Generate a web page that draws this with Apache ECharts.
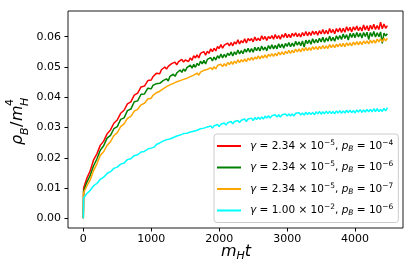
<!DOCTYPE html>
<html>
<head>
<meta charset="utf-8">
<script src="https://cdn.jsdelivr.net/npm/echarts@6/dist/echarts.min.js"></script>
<style>html,body{margin:0;padding:0;background:#fff}#c{width:413px;height:278px}</style>
</head>
<body>
<div id="c"></div>
<script>
const tValues = [0, 5,
  50, 100, 150, 200, 250, 300, 350, 400, 450, 500,
  550, 600, 650, 700, 750, 800, 850, 900, 950, 1000,
  1025, 1050, 1075, 1100, 1125, 1150, 1175, 1200, 1225, 1250, 1275, 1300, 1325, 1350, 1375, 1400, 1425, 1450, 1475, 1500,
  1525, 1550, 1575, 1600, 1625, 1650, 1675, 1700, 1725, 1750, 1775, 1800, 1825, 1850, 1875, 1900, 1925, 1950, 1975, 2000,
  2025, 2050, 2075, 2100, 2125, 2150, 2175, 2200, 2225, 2250, 2275, 2300, 2325, 2350, 2375, 2400, 2425, 2450, 2475, 2500,
  2525, 2550, 2575, 2600, 2625, 2650, 2675, 2700, 2725, 2750, 2775, 2800, 2825, 2850, 2875, 2900, 2925, 2950, 2975, 3000,
  3025, 3050, 3075, 3100, 3125, 3150, 3175, 3200, 3225, 3250, 3275, 3300, 3325, 3350, 3375, 3400, 3425, 3450, 3475, 3500,
  3525, 3550, 3575, 3600, 3625, 3650, 3675, 3700, 3725, 3750, 3775, 3800, 3825, 3850, 3875, 3900, 3925, 3950, 3975, 4000,
  4025, 4050, 4075, 4100, 4125, 4150, 4175, 4200, 4225, 4250, 4275, 4300, 4325, 4350, 4375, 4400, 4425, 4450, 4475];

const rhoRed = [0, 0.0100,
  0.0131, 0.0156, 0.0192, 0.0213, 0.0241, 0.0255, 0.0279, 0.0292, 0.0314, 0.0325,
  0.0347, 0.0357, 0.0378, 0.0385, 0.0407, 0.0414, 0.0434, 0.0437, 0.0455, 0.0457,
  0.0468, 0.0465, 0.0479, 0.0476, 0.0478, 0.0491, 0.0490, 0.0500, 0.0493, 0.0502, 0.0498, 0.0511, 0.0506, 0.0516, 0.0507, 0.0517, 0.0513, 0.0525, 0.0516, 0.0523,
  0.0527, 0.0518, 0.0530, 0.0522, 0.0537, 0.0530, 0.0540, 0.0530, 0.0545, 0.0539, 0.0551, 0.0539, 0.0552, 0.0545, 0.0560, 0.0551, 0.0562, 0.0553, 0.0568, 0.0561,
  0.0574, 0.0562, 0.0572, 0.0566, 0.0579, 0.0570, 0.0581, 0.0570, 0.0583, 0.0576, 0.0590, 0.0576, 0.0587, 0.0580, 0.0593, 0.0579, 0.0594, 0.0587, 0.0594, 0.0583,
  0.0599, 0.0587, 0.0595, 0.0587, 0.0603, 0.0591, 0.0601, 0.0588, 0.0601, 0.0594, 0.0604, 0.0592, 0.0607, 0.0594, 0.0604, 0.0592, 0.0607, 0.0598, 0.0611, 0.0597,
  0.0608, 0.0597, 0.0611, 0.0602, 0.0613, 0.0600, 0.0610, 0.0599, 0.0614, 0.0603, 0.0617, 0.0603, 0.0615, 0.0604, 0.0619, 0.0608, 0.0618, 0.0605, 0.0620, 0.0609,
  0.0624, 0.0609, 0.0621, 0.0609, 0.0627, 0.0613, 0.0624, 0.0610, 0.0627, 0.0616, 0.0629, 0.0614, 0.0628, 0.0615, 0.0633, 0.0619, 0.0631, 0.0616, 0.0633, 0.0622,
  0.0635, 0.0620, 0.0632, 0.0619, 0.0639, 0.0622, 0.0636, 0.0620, 0.0638, 0.0625, 0.0641, 0.0624, 0.0637, 0.0624, 0.0648, 0.0626, 0.0642, 0.0628, 0.0637];

const rhoGreen = [0, 0.0090,
  0.0118, 0.0141, 0.0173, 0.0196, 0.0225, 0.0240, 0.0265, 0.0274, 0.0296, 0.0303,
  0.0327, 0.0332, 0.0356, 0.0361, 0.0385, 0.0388, 0.0410, 0.0411, 0.0430, 0.0428,
  0.0439, 0.0434, 0.0445, 0.0440, 0.0446, 0.0442, 0.0455, 0.0450, 0.0461, 0.0454, 0.0469, 0.0465, 0.0476, 0.0469, 0.0480, 0.0474, 0.0490, 0.0482, 0.0494, 0.0486,
  0.0498, 0.0494, 0.0506, 0.0496, 0.0509, 0.0499, 0.0512, 0.0505, 0.0519, 0.0510, 0.0522, 0.0510, 0.0525, 0.0519, 0.0531, 0.0520, 0.0533, 0.0523, 0.0537, 0.0529,
  0.0543, 0.0530, 0.0542, 0.0532, 0.0546, 0.0538, 0.0550, 0.0536, 0.0550, 0.0541, 0.0556, 0.0543, 0.0554, 0.0544, 0.0559, 0.0549, 0.0562, 0.0549, 0.0561, 0.0549,
  0.0565, 0.0554, 0.0565, 0.0553, 0.0569, 0.0556, 0.0566, 0.0554, 0.0571, 0.0560, 0.0573, 0.0560, 0.0572, 0.0560, 0.0577, 0.0564, 0.0576, 0.0562, 0.0578, 0.0568,
  0.0581, 0.0567, 0.0579, 0.0568, 0.0585, 0.0572, 0.0583, 0.0570, 0.0586, 0.0566, 0.0589, 0.0577, 0.0589, 0.0575, 0.0593, 0.0579, 0.0591, 0.0580, 0.0595, 0.0583,
  0.0598, 0.0582, 0.0596, 0.0585, 0.0602, 0.0586, 0.0598, 0.0585, 0.0603, 0.0591, 0.0604, 0.0591, 0.0609, 0.0594, 0.0607, 0.0589, 0.0611, 0.0598, 0.0611, 0.0597,
  0.0614, 0.0599, 0.0612, 0.0596, 0.0614, 0.0601, 0.0615, 0.0591, 0.0614, 0.0601, 0.0617, 0.0599, 0.0613, 0.0600, 0.0616, 0.0578, 0.0612, 0.0603, 0.0610];

const rhoOrange = [0, 0.0085,
  0.0106, 0.0126, 0.0157, 0.0180, 0.0208, 0.0220, 0.0241, 0.0253, 0.0273, 0.0283,
  0.0303, 0.0312, 0.0330, 0.0337, 0.0354, 0.0360, 0.0375, 0.0380, 0.0394, 0.0397,
  0.0406, 0.0404, 0.0415, 0.0411, 0.0420, 0.0418, 0.0428, 0.0425, 0.0435, 0.0431, 0.0441, 0.0437, 0.0446, 0.0440, 0.0451, 0.0446, 0.0455, 0.0450, 0.0459, 0.0453,
  0.0463, 0.0459, 0.0468, 0.0462, 0.0473, 0.0469, 0.0480, 0.0473, 0.0483, 0.0477, 0.0489, 0.0483, 0.0492, 0.0486, 0.0498, 0.0491, 0.0501, 0.0494, 0.0505, 0.0499,
  0.0509, 0.0501, 0.0511, 0.0503, 0.0515, 0.0508, 0.0518, 0.0509, 0.0519, 0.0512, 0.0524, 0.0514, 0.0524, 0.0517, 0.0527, 0.0518, 0.0529, 0.0522, 0.0532, 0.0523,
  0.0533, 0.0526, 0.0537, 0.0527, 0.0537, 0.0530, 0.0540, 0.0530, 0.0542, 0.0535, 0.0544, 0.0535, 0.0545, 0.0537, 0.0549, 0.0540, 0.0550, 0.0541, 0.0552, 0.0544,
  0.0555, 0.0545, 0.0555, 0.0547, 0.0559, 0.0550, 0.0560, 0.0550, 0.0562, 0.0553, 0.0564, 0.0554, 0.0564, 0.0555, 0.0567, 0.0558, 0.0567, 0.0557, 0.0568, 0.0560,
  0.0571, 0.0561, 0.0570, 0.0561, 0.0574, 0.0564, 0.0574, 0.0564, 0.0575, 0.0567, 0.0577, 0.0567, 0.0578, 0.0567, 0.0580, 0.0571, 0.0580, 0.0570, 0.0582, 0.0573,
  0.0584, 0.0573, 0.0584, 0.0574, 0.0586, 0.0577, 0.0586, 0.0576, 0.0589, 0.0579, 0.0589, 0.0579, 0.0592, 0.0583, 0.0593, 0.0583, 0.0595, 0.0586, 0.0595];

const rhoCyan = [0, 0.0067,
  0.0081, 0.0092, 0.0107, 0.0115, 0.0129, 0.0136, 0.0148, 0.0154, 0.0165, 0.0169,
  0.0179, 0.0183, 0.0194, 0.0197, 0.0207, 0.0210, 0.0219, 0.0221, 0.0229, 0.0232,
  0.0237, 0.0236, 0.0244, 0.0242, 0.0249, 0.0246, 0.0255, 0.0252, 0.0260, 0.0256, 0.0262, 0.0259, 0.0267, 0.0264, 0.0272, 0.0267, 0.0275, 0.0272, 0.0280, 0.0275,
  0.0281, 0.0277, 0.0285, 0.0281, 0.0288, 0.0283, 0.0291, 0.0287, 0.0296, 0.0290, 0.0298, 0.0292, 0.0302, 0.0297, 0.0305, 0.0298, 0.0306, 0.0302, 0.0310, 0.0303,
  0.0311, 0.0306, 0.0315, 0.0308, 0.0316, 0.0311, 0.0320, 0.0312, 0.0320, 0.0315, 0.0323, 0.0316, 0.0324, 0.0319, 0.0328, 0.0320, 0.0328, 0.0323, 0.0331, 0.0323,
  0.0333, 0.0326, 0.0334, 0.0327, 0.0335, 0.0328, 0.0338, 0.0331, 0.0339, 0.0331, 0.0339, 0.0333, 0.0342, 0.0335, 0.0342, 0.0335, 0.0342, 0.0336, 0.0345, 0.0338,
  0.0345, 0.0338, 0.0345, 0.0338, 0.0347, 0.0341, 0.0349, 0.0341, 0.0348, 0.0341, 0.0351, 0.0343, 0.0350, 0.0343, 0.0350, 0.0342, 0.0352, 0.0345, 0.0353, 0.0344,
  0.0352, 0.0345, 0.0354, 0.0346, 0.0354, 0.0346, 0.0353, 0.0345, 0.0355, 0.0348, 0.0356, 0.0347, 0.0355, 0.0348, 0.0357, 0.0349, 0.0357, 0.0349, 0.0356, 0.0348,
  0.0358, 0.0351, 0.0359, 0.0350, 0.0358, 0.0351, 0.0360, 0.0352, 0.0360, 0.0352, 0.0362, 0.0353, 0.0362, 0.0353, 0.0360, 0.0353, 0.0363, 0.0355, 0.0366];

const seriesNames = ['s1', 's2', 's3', 's4'];
const legendLabels = [
  '{i|γ} = 2.34 × 10{sup|−5}, {i|p}{sub|B} = 10{sup|−4}',
  '{i|γ} = 2.34 × 10{sup|−5}, {i|p}{sub|B} = 10{sup|−6}',
  '{i|γ} = 2.34 × 10{sup|−5}, {i|p}{sub|B} = 10{sup|−7}',
  '{i|γ} = 1.00 × 10{sup|−2}, {i|p}{sub|B} = 10{sup|−6}'
];
const seriesColors = ['#ff0000', '#008000', '#ffa500', '#00ffff'];
const xTicks = [0, 1000, 2000, 3000, 4000];
const yTicks = [0, 0.01, 0.02, 0.03, 0.04, 0.05, 0.06];

const allSeries = [rhoRed, rhoGreen, rhoOrange, rhoCyan];
const FONT = 'DejaVu Sans';

const chart = echarts.init(document.getElementById('c'), null, {renderer: 'canvas'});
chart.setOption({
  animation: false,
  backgroundColor: '#fff',
  grid: {left: 68, right: 10, top: 11, bottom: 50, show: true, borderColor: '#1a1a1a', borderWidth: 1, backgroundColor: 'transparent'},
  xAxis: {
    type: 'value', min: -225, max: 4705,
    splitLine: {show: false},
    axisLine: {show: false, onZero: false},
    axisTick: {show: true, inside: false, length: 3.5, lineStyle: {color: '#000'}, customValues: xTicks},
    axisLabel: {color: '#000', fontFamily: FONT, fontSize: 11, margin: 6, customValues: xTicks,
      formatter: v => String(v)}
  },
  yAxis: {
    type: 'value', min: -0.0032, max: 0.0685,
    splitLine: {show: false},
    axisLine: {show: false, onZero: false},
    axisTick: {show: true, inside: false, length: 3.5, lineStyle: {color: '#000'}, customValues: yTicks},
    axisLabel: {color: '#000', fontFamily: FONT, fontSize: 11, margin: 7, customValues: yTicks,
      formatter: v => v.toFixed(2)}
  },
  legend: {
    orient: 'vertical', left: 214, top: 134,
    padding: [5, 5, 5, 3],
    icon: 'rect',
    itemWidth: 24, itemHeight: 2, itemGap: 7.5,
    backgroundColor: 'rgba(255,255,255,0.8)', borderColor: '#cccccc', borderWidth: 1, borderRadius: 3,
    data: seriesNames,
    formatter: name => legendLabels[seriesNames.indexOf(name)],
    textStyle: {
      color: '#000', fontFamily: FONT, fontSize: 10.5, padding: [0, 0, 0, 4],
      rich: {
        i: {fontFamily: FONT, fontStyle: 'italic', fontSize: 10.5, lineHeight: 14},
        sup: {fontFamily: FONT, fontSize: 7.5, lineHeight: 9, verticalAlign: 'top'},
        sub: {fontFamily: FONT, fontStyle: 'italic', fontSize: 7.5, lineHeight: 8, verticalAlign: 'bottom'}
      }
    }
  },
  graphic: [
    {
      type: 'text', x: 236, y: 252,
      style: {
        text: '{i|m}{s|H}{i|t}', align: 'center', verticalAlign: 'middle', fill: '#000',
        rich: {
          i: {fontFamily: FONT, fontStyle: 'italic', fontSize: 16, lineHeight: 20},
          s: {fontFamily: FONT, fontStyle: 'italic', fontSize: 11, lineHeight: 11, verticalAlign: 'bottom'}
        }
      }
    },
    {
      type: 'group', x: 23, y: 145, rotation: Math.PI / 2,
      children: [
        {type: 'text', x: 0, y: -5, style: {text: 'ρ', font: 'italic 16px "DejaVu Sans"', fill: '#000', verticalAlign: 'middle'}},
        {type: 'text', x: 10, y: 2, style: {text: 'B', font: 'italic 11px "DejaVu Sans"', fill: '#000', verticalAlign: 'middle'}},
        {type: 'text', x: 18, y: -5, style: {text: '/', font: '16px "DejaVu Sans"', fill: '#000', verticalAlign: 'middle'}},
        {type: 'text', x: 24, y: -5, style: {text: 'm', font: 'italic 16px "DejaVu Sans"', fill: '#000', verticalAlign: 'middle'}},
        {type: 'text', x: 39, y: 2, style: {text: 'H', font: 'italic 11px "DejaVu Sans"', fill: '#000', verticalAlign: 'middle'}},
        {type: 'text', x: 39, y: -13, style: {text: '4', font: '11px "DejaVu Sans"', fill: '#000', verticalAlign: 'middle'}}
      ]
    }
  ],
  series: allSeries.map((vals, k) => ({
    type: 'line', name: seriesNames[k], symbol: 'none', showSymbol: false,
    color: seriesColors[k],
    lineStyle: {width: 1.5, color: seriesColors[k]},
    data: tValues.map((t, j) => [t, vals[j]])
  }))
});
</script>
</body>
</html>
